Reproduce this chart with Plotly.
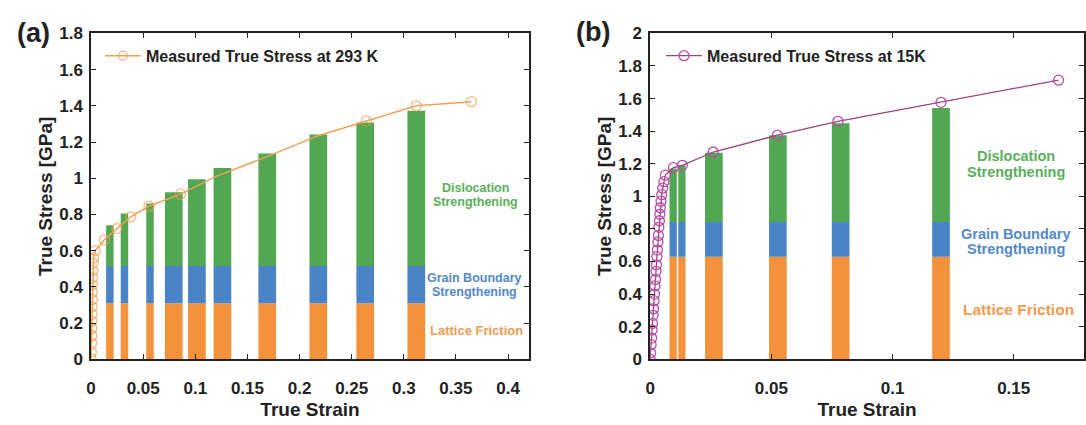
import plotly.graph_objects as go

# ---------------- Panel (a): 293 K ----------------
bar_strain_a = [0.018, 0.032, 0.0565, 0.0793, 0.1015, 0.126, 0.169, 0.218, 0.263, 0.312]
bar_width_a = [0.0072, 0.0072, 0.0072, 0.0170, 0.0170, 0.0170, 0.0170, 0.0170, 0.0170, 0.0170]
lattice_a = [0.31] * 10
grain_top_a = [0.515] * 10
total_top_a = [0.74, 0.805, 0.86, 0.923, 0.995, 1.057, 1.136, 1.241, 1.308, 1.373]

meas_strain_a = [0.0, 0.0003, 0.0005, 0.0006, 0.0007, 0.0008, 0.0009, 0.001, 0.0011, 0.0012,
                 0.0013, 0.0014, 0.0016, 0.0019, 0.0024, 0.004, 0.0127, 0.0248, 0.038, 0.0555,
                 0.0857, 0.12, 0.17, 0.218, 0.264, 0.312, 0.365]
meas_stress_a = [0.0, 0.04, 0.09, 0.13, 0.17, 0.21, 0.25, 0.29, 0.33, 0.37,
                 0.41, 0.45, 0.49, 0.53, 0.56, 0.6, 0.66, 0.722, 0.787, 0.845,
                 0.912, 1.01, 1.122, 1.235, 1.317, 1.40, 1.423]
marked_a = [1] * 21 + [0, 0, 0] + [1, 1, 1]

# ---------------- Panel (b): 15 K ----------------
bar_strain_b = [0.0095, 0.0131, 0.0263, 0.0527, 0.0786, 0.120]
bar_width_b = [0.003, 0.003, 0.0073, 0.0073, 0.0073, 0.0073]
lattice_b = [0.63] * 6
grain_top_b = [0.843] * 6
total_top_b = [1.171, 1.19, 1.268, 1.375, 1.448, 1.542]

meas_strain_b = [0.0, 0.0002, 0.0004, 0.0006, 0.0008, 0.001, 0.0012, 0.0014, 0.0016, 0.0018,
                 0.002, 0.0022, 0.0024, 0.0026, 0.0028, 0.003, 0.0032, 0.0034, 0.0036, 0.0038,
                 0.004, 0.0042, 0.0045, 0.0048, 0.0052, 0.0057, 0.0063,
                 0.0096, 0.0133, 0.026, 0.0525, 0.0775, 0.12, 0.1685]
meas_stress_b = [0.0, 0.04, 0.09, 0.13, 0.18, 0.22, 0.27, 0.31, 0.36, 0.40,
                 0.45, 0.49, 0.54, 0.58, 0.63, 0.67, 0.72, 0.76, 0.81, 0.85,
                 0.89, 0.93, 0.97, 1.01, 1.05, 1.09, 1.13,
                 1.176, 1.19, 1.272, 1.375, 1.46, 1.577, 1.713]

ytick_a = [0, 0.2, 0.4, 0.6, 0.8, 1.0, 1.2, 1.4, 1.6, 1.8]
ytick_b = [0, 0.2, 0.4, 0.6, 0.8, 1.0, 1.2, 1.4, 1.6, 1.8, 2.0]

GREEN = "#52A852"
BLUE = "#4A84C6"
ORANGE = "#F4923C"
LINE_A = "#F0A058"
MARK_A = "#EE9848"
LINE_B = "#A0407E"
MARK_B = "#B84CA6"
FONT = "Liberation Sans, Arial, sans-serif"

fig = go.Figure()


def add_bars(xs, ws, lat, gb, top, xa, ya):
    fig.add_trace(go.Bar(x=xs, y=lat, base=[0] * len(xs), width=ws, marker_color=ORANGE,
                         marker_line_width=0, showlegend=False, xaxis=xa, yaxis=ya,
                         hoverinfo="skip"))
    fig.add_trace(go.Bar(x=xs, y=[g - l for g, l in zip(gb, lat)], base=lat, width=ws,
                         marker_color=BLUE, marker_line_width=0, showlegend=False,
                         xaxis=xa, yaxis=ya, hoverinfo="skip"))
    fig.add_trace(go.Bar(x=xs, y=[t - g for t, g in zip(top, gb)], base=gb, width=ws,
                         marker_color=GREEN, marker_line_width=0, showlegend=False,
                         xaxis=xa, yaxis=ya, hoverinfo="skip"))


add_bars(bar_strain_a, bar_width_a, lattice_a, grain_top_a, total_top_a, "x", "y")
add_bars(bar_strain_b, bar_width_b, lattice_b, grain_top_b, total_top_b, "x2", "y2")

fig.add_trace(go.Scatter(
    x=meas_strain_a, y=meas_stress_a, mode="lines+markers",
    name="Measured True Stress at 293 K",
    line=dict(color=LINE_A, width=1.5),
    marker=dict(symbol="circle-open", size=[10 if m else 0 for m in marked_a],
                color=MARK_A, line=dict(width=1.3, color=MARK_A)),
    xaxis="x", yaxis="y", legend="legend"))

fig.add_trace(go.Scatter(
    x=meas_strain_b, y=meas_stress_b, mode="lines+markers",
    name="Measured True Stress at 15K",
    line=dict(color=LINE_B, width=1.3),
    marker=dict(symbol="circle-open", size=10, color=MARK_B,
                line=dict(width=1.3, color=MARK_B)),
    xaxis="x2", yaxis="y2", legend="legend2"))

tickfont = dict(family=FONT, size=17, color="#222", weight="bold")
titlefont = dict(family=FONT, size=19, color="#222", weight="bold")
axis_common = dict(showline=True, linecolor="#222", linewidth=1.6, mirror="ticks",
                   ticks="inside", ticklen=5, tickwidth=1.3, tickcolor="#222",
                   showgrid=False, zeroline=False, tickfont=tickfont)

yd = [0.1372, 0.94]
legfont = dict(family=FONT, size=16, color="#222", weight="bold")
fig.update_layout(
    width=1086, height=425,
    margin=dict(l=0, r=0, t=0, b=0),
    paper_bgcolor="white", plot_bgcolor="white",
    barmode="overlay",
    xaxis=dict(domain=[0.0798, 0.4855], range=[0, 0.42], tick0=0, dtick=0.05,
               ticklabelstandoff=13,
               title=dict(text="True Strain", font=titlefont, standoff=5), anchor="y",
               **axis_common),
    yaxis=dict(domain=yd, range=[0, 1.8], tickvals=ytick_a, ticklabelstandoff=3,
               title=dict(text="True Stress [GPa]", font=titlefont, standoff=2), anchor="x",
               **axis_common),
    xaxis2=dict(domain=[0.5979, 1.0], range=[0, 0.179], tick0=0, dtick=0.05,
                ticklabelstandoff=13,
                title=dict(text="True Strain", font=titlefont, standoff=5), anchor="y2",
                **axis_common),
    yaxis2=dict(domain=yd, range=[0, 2.0], tickvals=ytick_b, ticklabelstandoff=3,
                title=dict(text="True Stress [GPa]", font=titlefont, standoff=2), anchor="x2",
                **axis_common),
    legend=dict(x=0.088, y=1 - 49 / 425, xanchor="left", yanchor="middle", itemwidth=36,
                bgcolor="rgba(0,0,0,0)", font=legfont),
    legend2=dict(x=0.608, y=1 - 49 / 425, xanchor="left", yanchor="middle", itemwidth=36,
                 bgcolor="rgba(0,0,0,0)", font=legfont),
)

ann = []


def label(text, x, y, xref, yref, color, size):
    ann.append(dict(text=text, x=x, y=y, xref=xref, yref=yref, showarrow=False,
                    font=dict(family=FONT, size=size, color=color, weight="bold"),
                    xanchor="center", yanchor="middle"))


# Panel (a) labels
label("Dislocation", 0.369, 0.948, "x", "y", "#5AAE5A", 12.5)
label("Strengthening", 0.369, 0.87, "x", "y", "#5AAE5A", 12.5)
label("Grain Boundary", 0.368, 0.448, "x", "y", "#5288CA", 12.5)
label("Strengthening", 0.368, 0.374, "x", "y", "#5288CA", 12.5)
label("Lattice Friction", 0.37, 0.158, "x", "y", "#F29A50", 13)
# Panel (b) labels
label("Dislocation", 0.151, 1.25, "x2", "y2", "#5AAE5A", 14.5)
label("Strengthening", 0.151, 1.152, "x2", "y2", "#5AAE5A", 14.5)
label("Grain Boundary", 0.151, 0.771, "x2", "y2", "#5288CA", 14.5)
label("Strengthening", 0.151, 0.677, "x2", "y2", "#5288CA", 14.5)
label("Lattice Friction", 0.152, 0.303, "x2", "y2", "#F29A50", 15.5)
# panel letters
ann.append(dict(text="(a)", x=29 / 1086, y=1 - 25 / 425, xref="paper", yref="paper",
                showarrow=False, xanchor="center", yanchor="middle",
                font=dict(family=FONT, size=27, color="#222", weight="bold")))
ann.append(dict(text="(b)", x=592 / 1086, y=1 - 24 / 425, xref="paper", yref="paper",
                showarrow=False, xanchor="center", yanchor="middle",
                font=dict(family=FONT, size=27, color="#222", weight="bold")))
fig.update_layout(annotations=ann)

fig.write_html("out.html")
